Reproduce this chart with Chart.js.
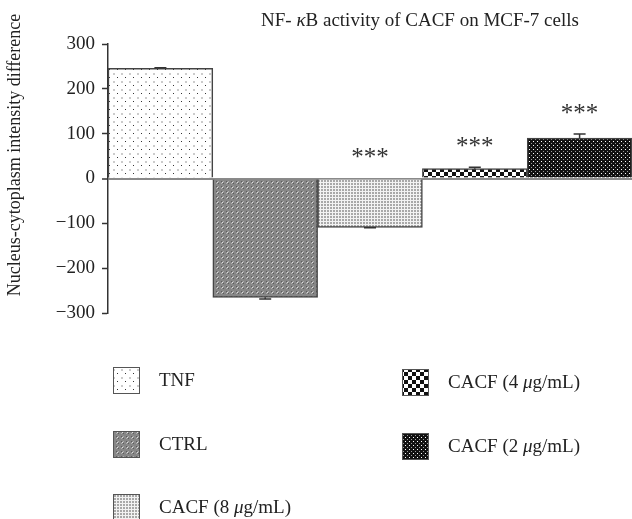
<!DOCTYPE html>
<html>
<head>
<meta charset="utf-8">
<script src="https://cdn.jsdelivr.net/npm/chart.js@4.4.1/dist/chart.umd.min.js"></script>
<style>
  html, body { margin: 0; padding: 0; background: #fff; }
  #chart { display: block; }
</style>
</head>
<body>
<canvas id="chart" width="632" height="519"></canvas>
<script>
const groups = ['TNF', 'CTRL', 'CACF (8 \u03bcg/mL)', 'CACF (4 \u03bcg/mL)', 'CACF (2 \u03bcg/mL)'];
const values = [246, -265, -109, 22, 90];
const errors = [1, 4, 1, 3, 9];
const stars = ['', '', '***', '***', '***'];
const yTicks = [-300, -200, -100, 0, 100, 200, 300];

const serif = '"Liberation Serif", "DejaVu Serif", serif';

// small tiles for the fill patterns
function makePattern(size, bg, dots) {
  const c = document.createElement('canvas');
  c.width = size;
  c.height = size;
  const g = c.getContext('2d');
  g.fillStyle = bg;
  g.fillRect(0, 0, size, size);
  dots.forEach(d => {
    g.fillStyle = d[4];
    g.fillRect(d[0], d[1], d[2], d[3]);
  });
  return g.createPattern(c, 'repeat');
}

const fills = [
  makePattern(8, '#ffffff', [[1, 1, 2, 2, '#cccccc'], [5, 5, 1, 1, '#333333']]),
  makePattern(5, '#878787', [[2, 2, 1, 1, '#e0e0e0'], [1, 1, 1, 1, '#5e5e5e'], [3, 3, 1, 1, '#5e5e5e'], [1, 3, 1, 1, '#b0b0b0'], [3, 1, 1, 1, '#b0b0b0']]),
  makePattern(3, '#f2f2f2', [[0, 0, 2, 2, '#a8a8a8']]),
  makePattern(8, '#ffffff', [[0, 0, 4, 4, '#111111'], [4, 4, 4, 4, '#111111']]),
  makePattern(4, '#111111', [[1, 1, 1, 1, '#ffffff'], [3, 3, 1, 1, '#9a9a9a']])
];

// draws text left-aligned, greek letters in italic
function richText(ctx, str, x, y, size) {
  const parts = str.split(/([\u03b1-\u03c9])/);
  let cx = x;
  parts.forEach(p => {
    if (!p) return;
    ctx.font = (/[\u03b1-\u03c9]/.test(p) ? 'italic ' : '') + size + 'px ' + serif;
    ctx.fillText(p, cx, y);
    cx += ctx.measureText(p).width;
  });
  return cx - x;
}

function richWidth(ctx, str, size) {
  const parts = str.split(/([\u03b1-\u03c9])/);
  let w = 0;
  parts.forEach(p => {
    if (!p) return;
    ctx.font = (/[\u03b1-\u03c9]/.test(p) ? 'italic ' : '') + size + 'px ' + serif;
    w += ctx.measureText(p).width;
  });
  return w;
}

const errorBars = {
  id: 'errorBars',
  afterDatasetsDraw(chart) {
    const ctx = chart.ctx;
    const y = chart.scales.y;
    const meta = chart.getDatasetMeta(0);
    ctx.save();
    ctx.strokeStyle = '#333';
    ctx.lineWidth = 1.5;
    meta.data.forEach((bar, i) => {
      const v = values[i];
      const end = y.getPixelForValue(v + (v < 0 ? -errors[i] : errors[i]));
      const start = y.getPixelForValue(v);
      ctx.beginPath();
      ctx.moveTo(bar.x, start);
      ctx.lineTo(bar.x, end);
      ctx.moveTo(bar.x - 6, end);
      ctx.lineTo(bar.x + 6, end);
      ctx.stroke();
    });
    // significance marks
    ctx.fillStyle = '#333';
    ctx.font = '25px ' + serif;
    ctx.textAlign = 'center';
    ctx.textBaseline = 'middle';
    meta.data.forEach((bar, i) => {
      if (!stars[i]) return;
      const top = Math.max(0, values[i] + errors[i]);
      ctx.fillText(stars[i], bar.x, y.getPixelForValue(top) - 20);
    });
    ctx.restore();
  }
};

const sideText = {
  id: 'sideText',
  afterDraw(chart) {
    const ctx = chart.ctx;
    const title = 'NF- \u03baB activity of CACF on MCF-7 cells';
    ctx.save();
    ctx.fillStyle = '#222';
    ctx.textAlign = 'left';
    ctx.textBaseline = 'middle';
    const w = richWidth(ctx, title, 19);
    richText(ctx, title, 420 - w / 2, 21, 19);
    ctx.textAlign = 'center';
    ctx.font = '18px ' + serif;
    ctx.translate(15, 155);
    ctx.rotate(-Math.PI / 2);
    ctx.fillText('Nucleus-cytoplasm intensity difference', 0, 0);
    ctx.restore();
  }
};

const boxLegend = {
  id: 'boxLegend',
  afterDraw(chart) {
    const ctx = chart.ctx;
    const spots = [[113, 367], [113, 431], [113, 494], [402, 369], [402, 433]];
    ctx.save();
    ctx.textBaseline = 'middle';
    ctx.textAlign = 'left';
    groups.forEach((name, i) => {
      const [bx, by] = spots[i];
      ctx.fillStyle = fills[i];
      ctx.fillRect(bx, by, 27, 27);
      ctx.strokeStyle = '#555';
      ctx.lineWidth = 1;
      ctx.strokeRect(bx + 0.5, by + 0.5, 26, 26);
      ctx.fillStyle = '#222';
      richText(ctx, name, bx + 46, by + 14, 19);
    });
    ctx.restore();
  }
};

new Chart(document.getElementById('chart'), {
  type: 'bar',
  data: {
    labels: groups,
    datasets: [{
      data: values,
      backgroundColor: fills,
      borderColor: '#444',
      borderWidth: 1.5,
      categoryPercentage: 1,
      barPercentage: 1
    }]
  },
  options: {
    responsive: false,
    animation: false,
    layout: { padding: { top: 44, bottom: 206, left: 0, right: 0 } },
    plugins: {
      legend: { display: false },
      tooltip: { enabled: false }
    },
    scales: {
      x: { display: false },
      y: {
        min: -300,
        max: 300,
        afterFit(scale) { scale.width = 108; },
        afterBuildTicks(scale) { scale.ticks = yTicks.map(v => ({ value: v })); },
        border: { display: true, color: '#333', width: 1.5 },
        grid: {
          drawOnChartArea: true,
          color: c => c.tick && c.tick.value === 0 ? '#8a8a8a' : 'rgba(0,0,0,0)',
          lineWidth: c => c.tick && c.tick.value === 0 ? 2 : 1,
          tickColor: '#333',
          tickWidth: 1.5,
          tickLength: 6
        },
        ticks: {
          padding: 7,
          color: '#222',
          font: { family: serif, size: 19 },
          callback: v => v < 0 ? '\u2212' + Math.abs(v) : String(v)
        }
      }
    }
  },
  plugins: [errorBars, sideText, boxLegend]
});
</script>
</body>
</html>
